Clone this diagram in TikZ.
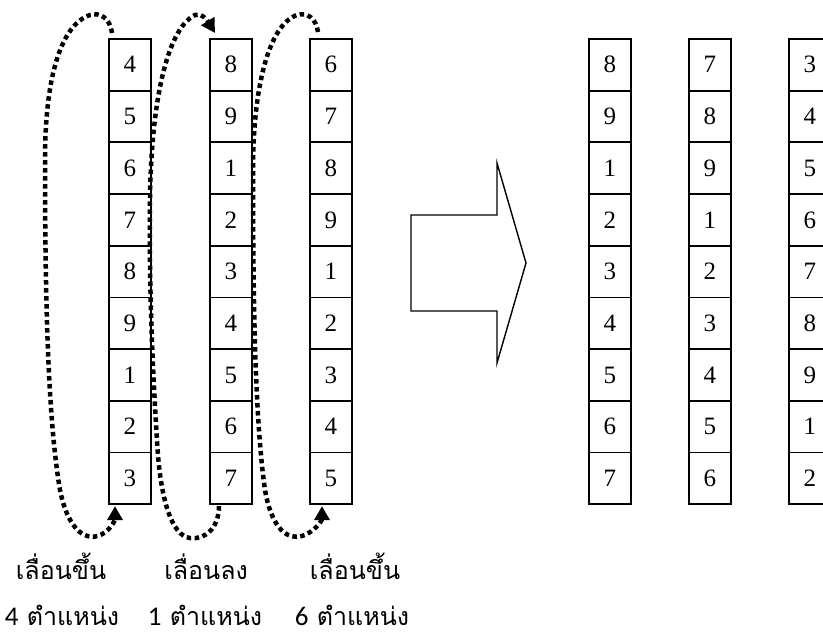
\documentclass[tikz,border=0pt]{standalone}
\usepackage{fontspec}
\setmainfont{Liberation Serif}
\newfontfamily\thaifont[Script=Thai]{Loma}
\newfontfamily\digitfont{Carlito}
\newcommand\captionnum[1]{{\digitfont\fontsize{27}{28}\selectfont #1}}
\usetikzlibrary{arrows.meta}

\begin{document}
\begin{tikzpicture}[x=1pt,y=-1pt,
  cell/.style={draw, line width=1.8pt, minimum width=42pt, minimum height=51.7pt,
    inner sep=0pt, anchor=north west, font=\fontsize{25}{25}\selectfont},
  shiftpath/.style={line width=4.5pt, dash pattern=on 4.5pt off 3.5pt,
    -{Triangle[length=14pt,width=15pt]}},
  caption/.style={anchor=base, inner sep=0pt, font=\thaifont\fontsize{25}{28}\selectfont},
  bigarrow/.style={draw, line width=1.4pt, line join=miter}
]
\useasboundingbox (0,0) rectangle (823,635);
\clip (0,0) rectangle (823,635);

% columns of cells: name / left edge / contents from top to bottom
\foreach \c/\x/\vals in {
  a/108/{4,5,6,7,8,9,1,2,3},
  b/209/{8,9,1,2,3,4,5,6,7},
  c/309/{6,7,8,9,1,2,3,4,5},
  d/588/{8,9,1,2,3,4,5,6,7},
  e/688/{7,8,9,1,2,3,4,5,6},
  f/788/{3,4,5,6,7,8,9,1,2}}{
  \foreach \v [count=\i] in \vals
    \node[cell] (\c\i) at (\x, {38+51.7*(\i-1)}) {\v};
}

% end points of the shift arrows
\coordinate (s1) at ([shift={(4,-5)}]a1.north west);
\coordinate (t1) at ([shift={(7,1)}]a9.south west);
\coordinate (s2) at ([shift={(10,1)}]b9.south west);
\coordinate (t2) at ([shift={(6,-5)}]b1.north west);
\coordinate (s3) at ([shift={(9,-6)}]c1.north west);
\coordinate (t3) at ([shift={(13,1)}]c9.south west);

% shift up by 4
\draw[shiftpath] (s1) .. controls (110,18) and (100,12) .. (90,15)
  .. controls (60,25) and (45,80) .. (45,160)
  .. controls (45,300) and (48,420) .. (60,490)
  .. controls (68,530) and (85,540) .. (98,536)
  .. controls (110,532) and (115,520) .. (t1);

% shift down by 1
\draw[shiftpath] (s2) .. controls (219,528) and (205,540) .. (190,538)
  .. controls (172,536) and (160,500) .. (157,440)
  .. controls (152,360) and (149,280) .. (150,200)
  .. controls (151,110) and (165,30) .. (195,15)
  .. controls (201,12) and (207,20) .. (t2);

% shift up by 6
\draw[shiftpath] (s3) .. controls (316,18) and (307,12) .. (297,15)
  .. controls (268,25) and (253,90) .. (253,170)
  .. controls (253,300) and (255,420) .. (265,490)
  .. controls (272,530) and (288,540) .. (302,536)
  .. controls (315,532) and (322,520) .. (t3);

% block arrow between the two states
\draw[bigarrow] (411,215) -- (497,215) -- (497,163) -- (526,263)
  -- (497,363) -- (497,311) -- (411,311) -- cycle;

% captions
\node[caption] (l1a) at (61,579) {เลื่อนขึ้น};
\node[caption] (l1b) at (62,625) {\captionnum{4} ตำแหน่ง};
\node[caption] (l2a) at (206,579) {เลื่อนลง};
\node[caption] (l2b) at (205,625) {\captionnum{1} ตำแหน่ง};
\node[caption] (l3a) at (355,579) {เลื่อนขึ้น};
\node[caption] (l3b) at (352,625) {\captionnum{6} ตำแหน่ง};
\end{tikzpicture}
\end{document}
